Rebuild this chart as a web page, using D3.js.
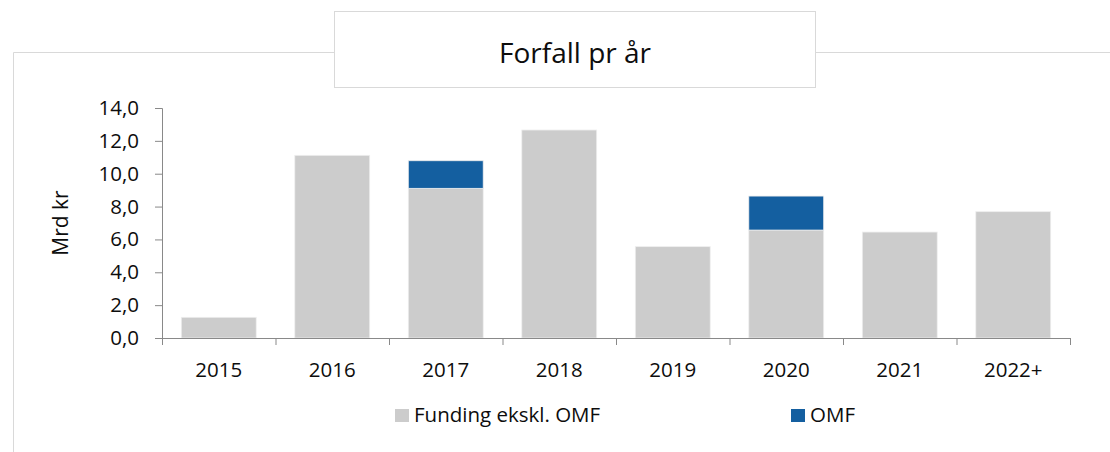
<!DOCTYPE html>
<head>
  <meta charset="utf-8">
  <title>Forfall pr år</title>
  <style>
    body { margin: 0; padding: 0; background: #fff; font-family: 'Open Sans', sans-serif; }
    .axis path, .axis line { stroke: #898989; }
    .axis text { fill: #0d0d0d; font-family: 'Open Sans', sans-serif; font-size: 20.5px; }
  </style>
</head>
<body>
  <div id="vis"></div>
  <script src="https://cdn.jsdelivr.net/npm/d3@7/dist/d3.min.js"></script>
  <script>
    var years = ['2015', '2016', '2017', '2018', '2019', '2020', '2021', '2022+'];
    var funding = [1.26, 11.12, 9.11, 12.66, 5.56, 6.57, 6.45, 7.69];
    var omf = [0, 0, 1.68, 0, 0, 2.07, 0, 0];
    var yTicks = [0, 2, 4, 6, 8, 10, 12, 14];
    var seriesNames = ['Funding ekskl. OMF', 'OMF'];
    var colors = ['#cccccc', '#145fa0'];

    var width = 1110, height = 452;
    var plotLeft = 162, plotRight = 1070, plotTop = 108, plotBottom = 338;
    var labelSize = 20.5;

    var svg = d3.select('#vis').append('svg')
      .attr('width', width)
      .attr('height', height);

    // outer frame, open to the right and bottom
    svg.append('path')
      .attr('d', 'M13.5,' + height + 'V52.5H1110')
      .attr('fill', 'none')
      .attr('stroke', '#d9d9d9');

    var x = d3.scaleBand().domain(years).range([plotLeft, plotRight]).paddingInner(0.34).paddingOuter(0.17);
    var y = d3.scaleLinear().domain([0, 14]).range([plotBottom, plotTop]);

    var rows = years.map(function(yr, i) {
      return { year: yr, funding: funding[i], omf: omf[i] };
    });
    var stack = d3.stack().keys(['funding', 'omf'])(rows);

    svg.append('g').selectAll('g')
      .data(stack)
      .enter().append('g')
        .attr('fill', function(d, i) { return colors[i]; })
      .selectAll('rect')
      .data(function(d) { return d; })
      .enter().append('rect')
        .attr('x', function(d) { return x(d.data.year); })
        .attr('width', x.bandwidth())
        .attr('y', function(d) { return y(d[1]); })
        .attr('height', function(d) { return y(d[0]) - y(d[1]); })
        .attr('stroke', '#eeeeee')
        .attr('stroke-width', 0.8);

    var yAxis = svg.append('g')
      .attr('class', 'axis')
      .attr('transform', 'translate(' + plotLeft + ',0)')
      .call(d3.axisLeft(y).tickValues(yTicks).tickSize(7).tickPadding(16)
        .tickFormat(function(d) { return d.toFixed(1).replace('.', ','); }));
    yAxis.select('.domain').attr('d', 'M-7,' + (plotTop + 0.5) + 'H0.5V' + (plotBottom + 0.5) + 'H-7');

    // category boundaries on the x axis
    var xb = d3.scaleLinear().domain([0, years.length]).range([plotLeft, plotRight]);
    var xAxis = svg.append('g')
      .attr('class', 'axis')
      .attr('transform', 'translate(0,' + plotBottom + ')')
      .call(d3.axisBottom(xb).tickValues(d3.range(years.length + 1)).tickSize(7).tickFormat(''));
    xAxis.select('.domain').attr('d', 'M' + plotLeft + ',0.5H' + plotRight);

    svg.append('g').selectAll('text')
      .data(years)
      .enter().append('text')
        .attr('x', function(d) { return x(d) + x.bandwidth() / 2; })
        .attr('y', 377)
        .attr('text-anchor', 'middle')
        .attr('font-size', labelSize)
        .attr('fill', '#0d0d0d')
        .text(function(d) { return d; });

    svg.append('text')
      .attr('transform', 'translate(68,' + ((plotTop + plotBottom) / 2) + ') rotate(-90)')
      .attr('text-anchor', 'middle')
      .attr('font-size', 21)
      .attr('fill', '#0d0d0d')
      .text('Mrd kr');

    // title box
    svg.append('rect')
      .attr('x', 334.5).attr('y', 11.5)
      .attr('width', 481).attr('height', 76)
      .attr('fill', '#fff')
      .attr('stroke', '#d9d9d9');
    svg.append('text')
      .attr('x', 575).attr('y', 63)
      .attr('text-anchor', 'middle')
      .attr('font-size', 28)
      .attr('fill', '#0d0d0d')
      .text('Forfall pr år');

    // legend
    var legendX = [395, 791];
    var legend = svg.append('g').selectAll('g')
      .data(seriesNames)
      .enter().append('g')
        .attr('transform', function(d, i) { return 'translate(' + legendX[i] + ',409)'; });
    legend.append('rect')
      .attr('width', 14).attr('height', 13)
      .attr('fill', function(d, i) { return colors[i]; });
    legend.append('text')
      .attr('x', 19).attr('y', 13)
      .attr('font-size', labelSize)
      .attr('fill', '#0d0d0d')
      .text(function(d) { return d; });
  </script>
</body>
